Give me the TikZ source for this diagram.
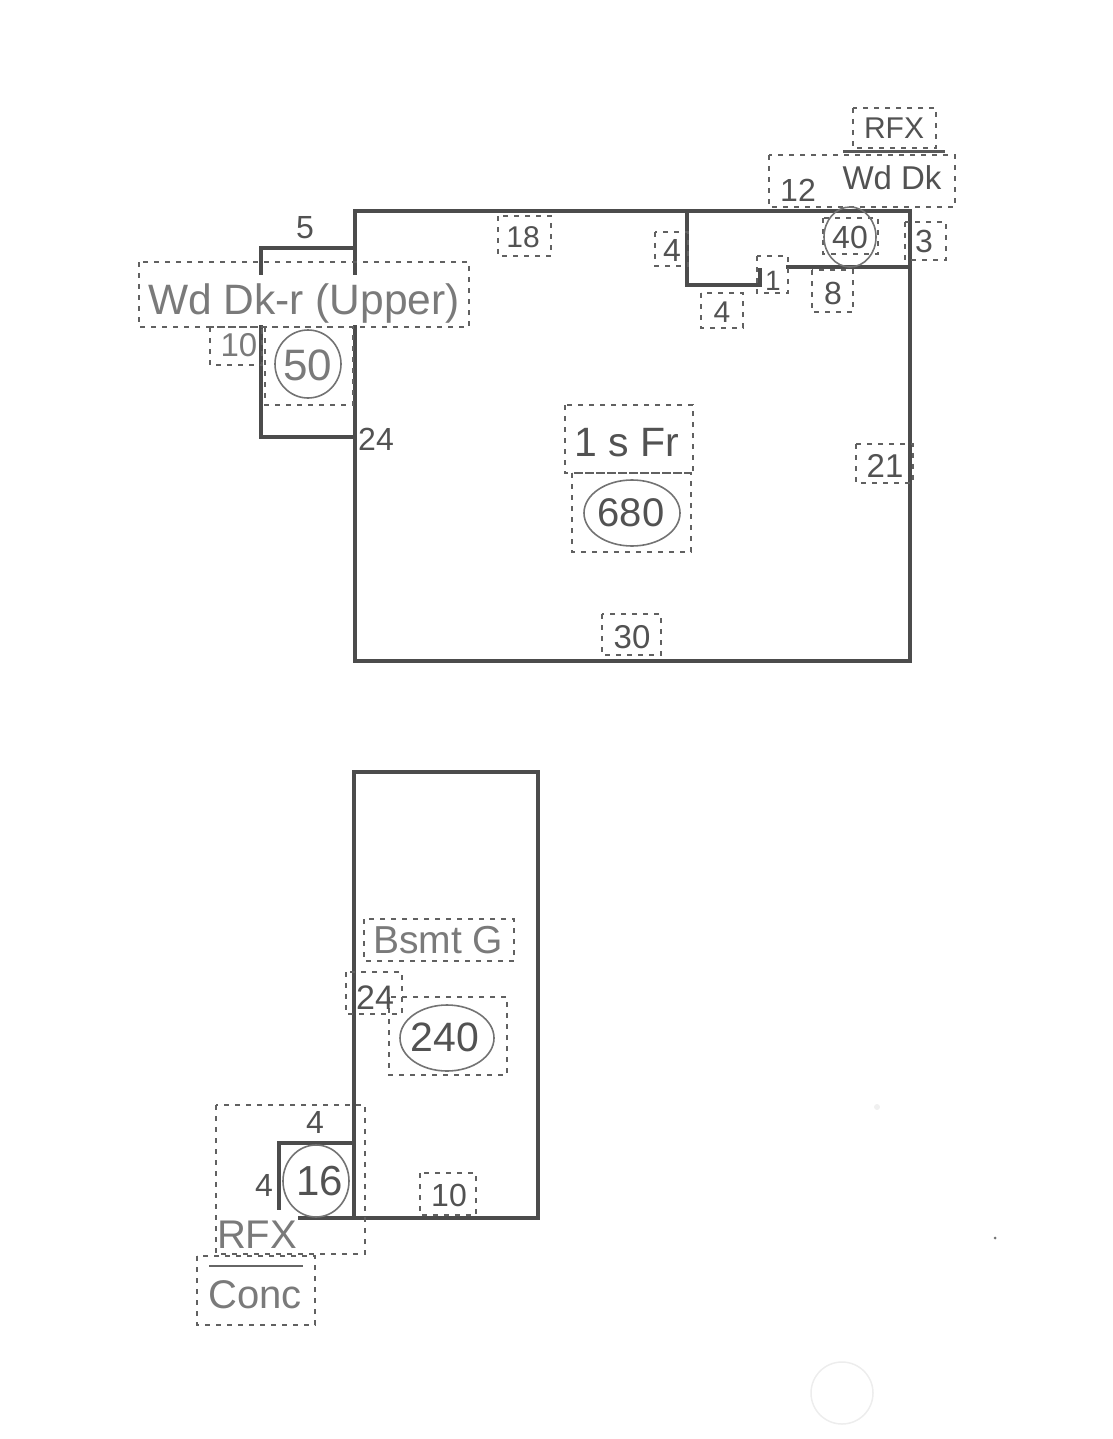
\documentclass[tikz,border=0pt]{standalone}
\usepackage{fontspec}
\setmainfont{Liberation Sans}
\newcommand{\fsz}[1]{\fontsize{#1}{#1}\selectfont}
\tikzset{
  wall/.style={draw=black!70,line width=4pt,line cap=butt,line join=miter},
  dbox/.style={draw=black!62,line width=2pt,dash pattern=on 5pt off 6pt},
  ring/.style={draw=black!55,line width=1.6pt},
  lab/.style={inner sep=0pt,text=black!68,font=\fsz{#1}},
  lab/.default=30,
  pale/.style={inner sep=0pt,text=black!52,font=\fsz{#1}},
  pale/.default=40
}
\begin{document}
\begin{tikzpicture}[x=1pt,y=-1pt]
\useasboundingbox (0,0) rectangle (1112,1439);
% first floor walls
\draw[wall] (355,211) -- (910,211) -- (910,661) -- (355,661) -- cycle;
\draw[wall] (687,211) -- (687,285) -- (760,285) -- (760,268);
\draw[wall] (786,267) -- (910,267);
\draw[wall] (355,248) -- (261,248) -- (261,437) -- (355,437);
% basement walls
\draw[wall] (354,1218) -- (354,772) -- (538,772) -- (538,1218) -- (298,1218);
\draw[wall] (354,1143) -- (279,1143) -- (279,1210);
% white gaps behind texts
\fill[white] (145,275) rectangle (462,325);
\fill[white] (215,1220) rectangle (300,1254);
% dashed boxes
\draw[dbox] (853,108) rectangle (936,148);
\draw[dbox] (769,155) rectangle (955,207);
\draw[dbox] (498,216) rectangle (551,256);
\draw[dbox] (655,232) rectangle (688,266);
\draw[dbox] (823,218) rectangle (878,254);
\draw[dbox] (905,222) rectangle (946,260);
\draw[dbox] (757,256) rectangle (788,293);
\draw[dbox] (812,270) rectangle (853,312);
\draw[dbox] (701,293) rectangle (743,328);
\draw[dbox] (139,262) rectangle (469,327);
\draw[dbox] (210,327) rectangle (262,365);
\draw[dbox] (265,327) rectangle (353,405);
\draw[dbox] (565,405) rectangle (693,473);
\draw[dbox] (572,473) rectangle (691,552);
\draw[dbox] (856,444) rectangle (913,483);
\draw[dbox] (602,614) rectangle (661,655);
\draw[dbox] (364,919) rectangle (514,961);
\draw[dbox] (346,972) rectangle (402,1014);
\draw[dbox] (389,997) rectangle (507,1075);
\draw[dbox] (216,1105) rectangle (365,1254);
\draw[dbox] (420,1173) rectangle (476,1215);
\draw[dbox] (197,1256) rectangle (315,1325);
% rings
\draw[ring] (850,237) ellipse (26pt and 30pt);
\draw[ring] (308,364) ellipse (33pt and 34pt);
\draw[ring] (632,513) ellipse (48pt and 33pt);
\draw[ring] (447,1038) ellipse (47pt and 33pt);
\draw[ring] (316,1181) ellipse (33pt and 36pt);
% fraction rules
\draw[draw=black!65,line width=3pt] (843,152) -- (945,152);
\draw[draw=black!60,line width=2pt] (209,1266) -- (303,1266);
% labels
\node[lab=30] (rfxa) at (894,128) {RFX};
\node[lab=33] (wddk) at (892,178) {Wd Dk};
\node[lab=32] (n12) at (798,190) {12};
\node[lab=30] (n18) at (523,237) {18};
\node[lab=32] (n4a) at (672,250) {4};
\node[lab=32] (n40) at (850,237) {40};
\node[lab=32] (n3) at (924,241) {3};
\node[lab=28] (n1) at (773,281) {1};
\node[lab=32] (n8) at (833,293) {8};
\node[lab=30] (n4b) at (722,312) {4};
\node[lab=32] (n5) at (305,228) {5};
\node[pale=42.5] (wdr) at (304,304) {Wd Dk-r (Upper)};
\node[pale=33] (n10a) at (239,345) {10};
\node[pale=44] (n50) at (308,365) {50};
\node[lab=32] (n24a) at (376,439) {24};
\node[lab=41] (sfr) at (627,443) {1 s Fr};
\node[lab=40] (n680) at (631,513) {680};
\node[lab=33] (n21) at (885,466) {21};
\node[lab=33] (n30) at (632,637) {30};
\node[pale=39] (bsmt) at (438,940) {Bsmt G};
\node[lab=34] (n24b) at (375,998) {24};
\node[lab=41] (n240) at (445,1037) {240};
\node[lab=32] (n4c) at (315,1122) {4};
\node[lab=32] (n4d) at (264,1185) {4};
\node[lab=42] (n16) at (320,1181) {16};
\node[lab=32] (n10b) at (449,1195) {10};
\node[pale=40] (rfxb) at (257,1235) {RFX};
\node[pale=40] (conc) at (255,1295) {Conc};
% scan marks
\draw[draw=black!7,line width=1.5pt] (842,1393) circle (31pt);
\fill[black!55] (995,1238) circle (1.5pt);
\fill[black!6] (877,1107) circle (3pt);
\end{tikzpicture}
\end{document}
